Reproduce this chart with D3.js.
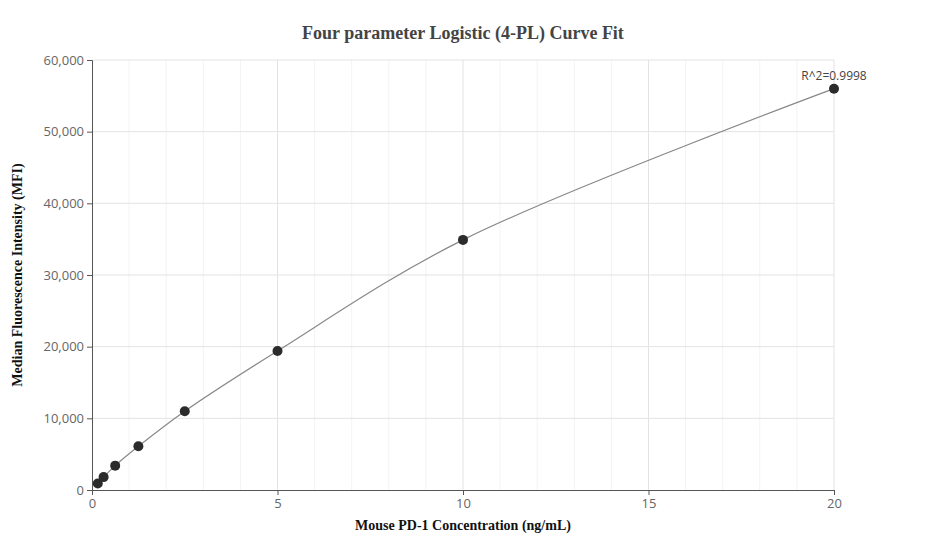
<!DOCTYPE html><html><head><meta charset="utf-8"><script src="https://cdn.jsdelivr.net/npm/d3@7"></script>
<style>body{margin:0;background:#fff}</style></head><body><svg width="927" height="560"></svg><script>
const conc=[0.156,0.3125,0.625,1.25,2.5,5,10,20];
const mfi=[900,1800,3400,6100,11000,19400,34900,56000];
const xTicks=[0,5,10,15,20];
const yTicks=[0,10000,20000,30000,40000,50000,60000];
const svg=d3.select("svg");
const x=d3.scaleLinear().domain([0,20]).range([92,834]);
const y=d3.scaleLinear().domain([0,60000]).range([490,60]);
const g=svg.append("g");
g.selectAll(".mv").data(d3.range(1,20).filter(d=>d%5)).join("line").attr("x1",x).attr("x2",x).attr("y1",60).attr("y2",490).attr("stroke","#f3f3f3");
g.selectAll(".gx").data(xTicks.slice(1)).join("line").attr("x1",x).attr("x2",x).attr("y1",60).attr("y2",490).attr("stroke","#e3e3e3");
g.selectAll(".gy").data(yTicks.slice(1)).join("line").attr("y1",y).attr("y2",y).attr("x1",92).attr("x2",834).attr("stroke","#e3e3e3");
const ax=svg.append("g").attr("transform","translate(0,490)").call(d3.axisBottom(x).tickValues(xTicks).tickSize(5).tickPadding(4));
const ay=svg.append("g").attr("transform","translate(92,0)").call(d3.axisLeft(y).tickValues(yTicks).tickSize(5).tickFormat(d3.format(",")));
[ax,ay].forEach(a=>{a.selectAll("path,line").attr("stroke","#555");a.selectAll("text").attr("fill","#666").style("font","13px 'Open Sans',sans-serif");});
svg.append("path").datum(conc.map((c,i)=>[c,mfi[i]])).attr("fill","none").attr("stroke","#888").attr("stroke-width",1.2)
 .attr("d",d3.line().x(d=>x(d[0])).y(d=>y(d[1])).curve(d3.curveCatmullRom.alpha(0.5)));
svg.selectAll("circle").data(conc).join("circle").attr("cx",d=>x(d)).attr("cy",(d,i)=>y(mfi[i])).attr("r",5).attr("fill","#2b2b2b");
svg.append("text").attr("x",834).attr("y",y(56000)-9).attr("text-anchor","middle").attr("fill","#444").style("font","12px 'Open Sans',sans-serif").text("R^2=0.9998");
svg.append("text").attr("x",463).attr("y",39).attr("text-anchor","middle").attr("fill","#444").style("font","bold 18px 'Liberation Serif',serif").text("Four parameter Logistic (4-PL) Curve Fit");
svg.append("text").attr("x",463).attr("y",530).attr("text-anchor","middle").attr("fill","#111").style("font","bold 14px 'Liberation Serif',serif").text("Mouse PD-1 Concentration (ng/mL)");
svg.append("text").attr("transform","translate(22,275) rotate(-90)").attr("text-anchor","middle").attr("fill","#111").style("font","bold 14px 'Liberation Serif',serif").text("Median Fluorescence Intensity (MFI)");
</script></body></html>
